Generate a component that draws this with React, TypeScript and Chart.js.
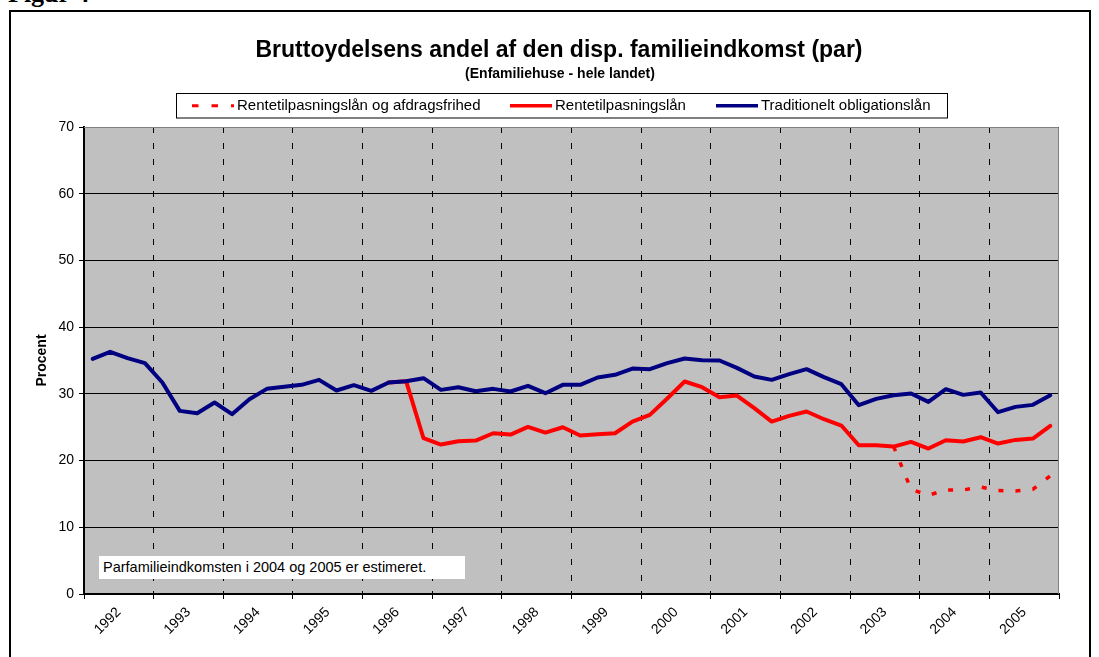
import React, { useEffect, useRef } from 'react';
import { Chart, registerables } from 'chart.js';

Chart.register(...registerables);

// ---- Data (quarterly, 1992 Q1 .. 2005 Q4) ----
const years = ['1992', '1993', '1994', '1995', '1996', '1997', '1998', '1999', '2000', '2001', '2002', '2003', '2004', '2005'];
const yTickValues = [0, 10, 20, 30, 40, 50, 60, 70];

const traditionelt: (number | null)[] = [
  35.25, 36.3, 35.35, 34.6, 31.7, 27.45, 27.1, 28.7,
  26.95, 29.2, 30.75, 31.05, 31.35, 32.1, 30.5, 31.3,
  30.45, 31.7, 31.9, 32.35, 30.6, 31.0, 30.4, 30.75,
  30.35, 31.2, 30.1, 31.35, 31.35, 32.45, 32.85, 33.8,
  33.7, 34.6, 35.3, 35.05, 35.0, 33.9, 32.6, 32.1,
  32.95, 33.7, 32.5, 31.45, 28.3, 29.25, 29.8, 30.05,
  28.8, 30.7, 29.85, 30.2, 27.25, 28.05, 28.35, 29.8,
];

const rentetilpasning: (number | null)[] = [
  null, null, null, null, null, null, null, null,
  null, null, null, null, null, null, null, null,
  null, 31.7, 31.9, 23.35, 22.4, 22.9, 23.0, 24.1,
  23.9, 25.05, 24.2, 25.0, 23.75, 23.95, 24.1, 25.85,
  26.85, 29.3, 31.85, 31.0, 29.5, 29.75, 27.85, 25.85,
  26.7, 27.35, 26.2, 25.25, 22.3, 22.3, 22.1, 22.8,
  21.8, 23.05, 22.85, 23.5, 22.55, 23.1, 23.3, 25.2,
];

const afdragsfrihed: (number | null)[] = [
  null, null, null, null, null, null, null, null,
  null, null, null, null, null, null, null, null,
  null, null, null, null, null, null, null, null,
  null, null, null, null, null, null, null, null,
  null, null, null, null, null, null, null, null,
  null, null, null, null, null, null, 22.1, 15.7,
  14.8, 15.6, 15.6, 16.05, 15.5, 15.45, 15.7, 17.7,
];

const seriesNames = ['Rentetilpasningslån og afdragsfrihed', 'Rentetilpasningslån', 'Traditionelt obligationslån'];
const titleText = 'Bruttoydelsens andel af den disp. familieindkomst (par)';
const subtitleText = '(Enfamiliehuse - hele landet)';
const noteText = 'Parfamilieindkomsten i 2004 og 2005 er estimeret.';
const yTitle = 'Procent';

const QUARTERS = 4;

const toPoints = (vals: (number | null)[]) => vals.map((v, i) => ({ x: i + 0.5, y: v }));

const SANS = '"Liberation Sans", Arial, sans-serif';

const plotBackground = {
  id: 'plotBackground',
  beforeDraw(chart: any) {
    const { ctx, chartArea } = chart;
    ctx.save();
    ctx.fillStyle = '#C0C0C0';
    ctx.fillRect(chartArea.left, chartArea.top, chartArea.right - chartArea.left, chartArea.bottom - chartArea.top);
    ctx.restore();
  },
  beforeDatasetsDraw(chart: any) {
    const { ctx, chartArea } = chart;
    ctx.save();
    ctx.strokeStyle = '#808080';
    ctx.lineWidth = 1;
    ctx.beginPath();
    ctx.moveTo(chartArea.left, chartArea.top + 0.5);
    ctx.lineTo(chartArea.right - 0.5, chartArea.top + 0.5);
    ctx.lineTo(chartArea.right - 0.5, chartArea.bottom);
    ctx.stroke();
    ctx.restore();
  },
};

const boxedLegend = {
  id: 'boxedLegend',
  afterDraw(chart: any) {
    const { ctx } = chart;
    const box = { x: 176.5, y: 93.5, w: 771, h: 24.5 };
    ctx.save();
    ctx.fillStyle = '#FFFFFF';
    ctx.fillRect(box.x, box.y, box.w, box.h);
    ctx.strokeStyle = '#000000';
    ctx.lineWidth = 1;
    ctx.strokeRect(box.x, box.y, box.w, box.h);
    const starts = [192, 510, 716];
    const sampleLen = 42;
    const cy = box.y + box.h / 2;
    ctx.font = '15px ' + SANS;
    ctx.textBaseline = 'middle';
    ctx.textAlign = 'left';
    const order = [2, 1, 0]; // dataset indices in legend order
    order.forEach((dsIndex, k) => {
      const ds = chart.data.datasets[dsIndex];
      const x0 = starts[k];
      const dashed = ds.borderDash && ds.borderDash.length;
      ctx.save();
      ctx.strokeStyle = ds.borderColor;
      ctx.lineWidth = dashed ? 3 : 3.5;
      ctx.setLineDash(dashed ? [6.5, 13] : []);
      ctx.lineCap = 'butt';
      ctx.beginPath();
      ctx.moveTo(x0, cy);
      ctx.lineTo(x0 + sampleLen, cy);
      ctx.stroke();
      ctx.restore();
      ctx.fillStyle = '#000000';
      ctx.fillText(ds.label, x0 + sampleLen + 3, cy + 0.5);
    });
    ctx.restore();
  },
};

export default function App() {
  const canvasRef = useRef<HTMLCanvasElement | null>(null);

  useEffect(() => {
    if (!canvasRef.current) return;
    const total = traditionelt.length;
    const tickFont = { family: SANS, size: 14 };
    const chart = new Chart(canvasRef.current, {
      type: 'line',
      data: {
        datasets: [
          {
            label: seriesNames[2],
            data: toPoints(traditionelt),
            borderColor: '#000080',
            backgroundColor: '#000080',
            borderWidth: 4,
            pointRadius: 0,
            tension: 0,
            borderJoinStyle: 'round',
            borderCapStyle: 'round',
            order: 0,
          },
          {
            label: seriesNames[1],
            data: toPoints(rentetilpasning),
            borderColor: '#FF0000',
            backgroundColor: '#FF0000',
            borderWidth: 4,
            pointRadius: 0,
            tension: 0,
            borderJoinStyle: 'round',
            borderCapStyle: 'round',
            order: 1,
          },
          {
            label: seriesNames[0],
            data: toPoints(afdragsfrihed),
            borderColor: '#FF0000',
            backgroundColor: '#FF0000',
            borderWidth: 3.5,
            borderDash: [5, 12],
            pointRadius: 0,
            tension: 0,
            borderCapStyle: 'butt',
            order: 2,
          },
        ],
      } as any,
      options: {
        responsive: false,
        animation: false,
        events: [],
        layout: { padding: { left: 30, right: 40, top: 127, bottom: 0 } },
        plugins: {
          legend: { display: false },
          title: { display: false },
          tooltip: { enabled: false },
        },
        scales: {
          x: {
            type: 'linear',
            position: 'bottom',
            min: 0,
            max: total,
            afterBuildTicks: (scale: any) => {
              const t: any[] = [];
              for (let v = 0; v <= total; v += QUARTERS / 2) t.push({ value: v });
              scale.ticks = t;
            },
            afterFit: (scale: any) => {
              scale.height = 63;
            },
            ticks: {
              autoSkip: false,
              minRotation: 45,
              maxRotation: 45,
              padding: 5,
              color: '#000000',
              font: tickFont,
              callback: (value: any) => {
                const v = Number(value);
                if (v % QUARTERS === QUARTERS / 2) return years[(v - QUARTERS / 2) / QUARTERS];
                return '';
              },
            },
            grid: {
              color: (ctx: any) => {
                const v = ctx.tick ? ctx.tick.value : -1;
                return v % QUARTERS === 0 && v > 0 && v < total ? '#000000' : 'rgba(0,0,0,0)';
              },
              lineWidth: 1,
              drawTicks: true,
              tickLength: 5,
              tickBorderDash: [],
              tickColor: (ctx: any) => {
                const v = ctx.tick ? ctx.tick.value : -1;
                return v % QUARTERS === 0 ? '#000000' : 'rgba(0,0,0,0)';
              },
            },
            border: { display: true, color: '#000000', width: 2, dash: [6, 10] },
          },
          y: {
            type: 'linear',
            position: 'left',
            min: 0,
            max: 70,
            afterBuildTicks: (scale: any) => {
              scale.ticks = yTickValues.map((v) => ({ value: v }));
            },
            afterFit: (scale: any) => {
              scale.width = 54;
            },
            ticks: {
              color: '#000000',
              font: tickFont,
              padding: 5,
            },
            grid: {
              color: '#000000',
              lineWidth: 1,
              drawTicks: true,
              tickLength: 5,
              tickColor: '#000000',
            },
            border: { display: true, color: '#000000', width: 2 },
            title: {
              display: true,
              text: yTitle,
              color: '#000000',
              font: { family: SANS, size: 14, weight: 'bold' },
              padding: { top: 4, bottom: 4 },
            },
          },
        },
      } as any,
      plugins: [plotBackground, boxedLegend],
    });
    return () => chart.destroy();
  }, []);

  return (
    <div style={{ position: 'fixed', left: 0, top: 0, width: 1099, height: 657, overflow: 'hidden', background: '#FFFFFF' }}>
      <div
        style={{
          position: 'absolute', left: 8, top: -19, fontFamily: '"Liberation Serif", "Times New Roman", serif',
          fontWeight: 'bold', fontSize: 26, lineHeight: '26px', color: '#000', whiteSpace: 'nowrap',
        }}
      >
        Figur 4
      </div>
      <canvas ref={canvasRef} width={1099} height={657} style={{ position: 'absolute', left: 0, top: 0 }} />
      <div
        style={{
          position: 'absolute', left: 9, top: 10, width: 1082, height: 700, boxSizing: 'border-box',
          border: '2px solid #000', pointerEvents: 'none',
        }}
      />
      <div
        style={{
          position: 'absolute', left: 0, width: 1118, top: 38, textAlign: 'center', fontFamily: SANS,
          fontWeight: 'bold', fontSize: 23, lineHeight: '23px', color: '#000', whiteSpace: 'nowrap',
        }}
      >
        {titleText}
      </div>
      <div
        style={{
          position: 'absolute', left: 0, width: 1120, top: 66, textAlign: 'center', fontFamily: SANS,
          fontWeight: 'bold', fontSize: 14, lineHeight: '14px', color: '#000', whiteSpace: 'nowrap',
        }}
      >
        {subtitleText}
      </div>
      <div
        style={{
          position: 'absolute', left: 99, top: 556, width: 366, height: 23, background: '#FFFFFF',
          fontFamily: SANS, fontSize: 14.5, lineHeight: '23px', paddingLeft: 4, boxSizing: 'border-box',
          color: '#000', whiteSpace: 'nowrap',
        }}
      >
        {noteText}
      </div>
    </div>
  );
}
